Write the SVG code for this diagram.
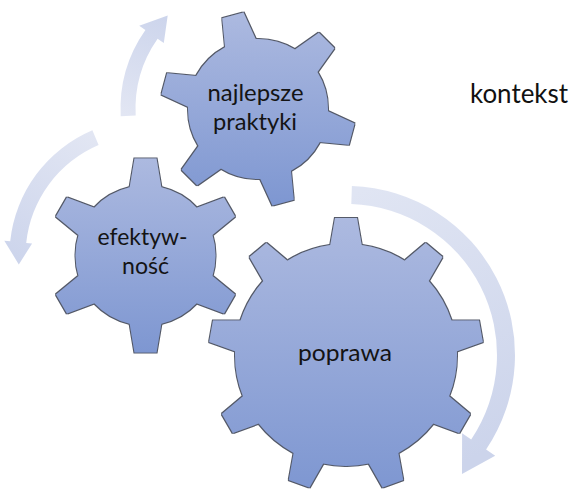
<svg xmlns="http://www.w3.org/2000/svg" width="575" height="490" viewBox="0 0 575 490">
  <style>
    .label { font-family: Lato, "Open Sans", "Liberation Sans", sans-serif; font-size: 24px; fill: #141414; text-anchor: middle; }
    .body { fill: url(#gearFill); }
  </style>
  <defs>
    <linearGradient id="gearFill" x1="0" y1="0" x2="0" y2="1">
      <stop offset="0" stop-color="#ADBAE0"/>
      <stop offset="1" stop-color="#7D96D1"/>
    </linearGradient>
    <linearGradient id="arrowA" gradientUnits="userSpaceOnUse" x1="350" y1="195" x2="470" y2="460">
      <stop offset="0" stop-color="#E0E5F3"/>
      <stop offset="1" stop-color="#CCD4EB"/>
    </linearGradient>
    <linearGradient id="arrowB" gradientUnits="userSpaceOnUse" x1="128" y1="116" x2="165" y2="18">
      <stop offset="0" stop-color="#E2E6F3"/>
      <stop offset="1" stop-color="#CDD5EC"/>
    </linearGradient>
    <linearGradient id="arrowC" gradientUnits="userSpaceOnUse" x1="95" y1="135" x2="20" y2="260">
      <stop offset="0" stop-color="#E2E6F3"/>
      <stop offset="1" stop-color="#CDD5EC"/>
    </linearGradient>
    <!-- gear teeth, drawn pointing up from the gear centre -->
    <polygon id="toothL" points="-17.4,-100 -11,-137 11,-137 17.4,-100"/>
    <polygon id="toothS" points="-17.2,-60 -11,-97 11,-97 17.2,-60"/>
    <filter id="rim" x="-5%" y="-5%" width="110%" height="110%">
      <feMorphology in="SourceAlpha" operator="dilate" radius="1.1" result="grow"/>
      <feFlood flood-color="#545a68"/>
      <feComposite in2="grow" operator="in" result="edge"/>
      <feMerge>
        <feMergeNode in="edge"/>
        <feMergeNode in="SourceGraphic"/>
      </feMerge>
    </filter>
    <clipPath id="clipGear1">
      <circle cx="346" cy="355" r="111"/>
      <use href="#toothL" transform="translate(346 355) rotate(0)"/>
      <use href="#toothL" transform="translate(346 355) rotate(40)"/>
      <use href="#toothL" transform="translate(346 355) rotate(80)"/>
      <use href="#toothL" transform="translate(346 355) rotate(120)"/>
      <use href="#toothL" transform="translate(346 355) rotate(160)"/>
      <use href="#toothL" transform="translate(346 355) rotate(200)"/>
      <use href="#toothL" transform="translate(346 355) rotate(240)"/>
      <use href="#toothL" transform="translate(346 355) rotate(280)"/>
      <use href="#toothL" transform="translate(346 355) rotate(320)"/>
    </clipPath>
    <clipPath id="clipGear2">
      <circle cx="258" cy="109" r="70"/>
      <use href="#toothS" transform="translate(258 109) rotate(45)"/>
      <use href="#toothS" transform="translate(258 109) rotate(105)"/>
      <use href="#toothS" transform="translate(258 109) rotate(165)"/>
      <use href="#toothS" transform="translate(258 109) rotate(225)"/>
      <use href="#toothS" transform="translate(258 109) rotate(285)"/>
      <use href="#toothS" transform="translate(258 109) rotate(345)"/>
    </clipPath>
    <clipPath id="clipGear3">
      <circle cx="145.5" cy="255.5" r="70"/>
      <use href="#toothS" transform="translate(145.5 255.5) rotate(0)"/>
      <use href="#toothS" transform="translate(145.5 255.5) rotate(60)"/>
      <use href="#toothS" transform="translate(145.5 255.5) rotate(120)"/>
      <use href="#toothS" transform="translate(145.5 255.5) rotate(180)"/>
      <use href="#toothS" transform="translate(145.5 255.5) rotate(240)"/>
      <use href="#toothS" transform="translate(145.5 255.5) rotate(300)"/>
    </clipPath>
  </defs>

  <rect width="575" height="490" fill="#ffffff"/>

  <!-- curved arrows -->
  <g id="connectors">
    <path id="arrow-poprawa" fill="url(#arrowA)" d="M 351.9,186.1 A 169 169 0 0 1 486.1,449.5 L 495.2,455.7 L 462,474 L 462.1,433.3 L 471.2,439.4 A 151 151 0 0 0 351.3,204.1 Z"/>
    <path id="arrow-praktyki" fill="url(#arrowB)" d="M 120.7,116.2 A 137.5 137.5 0 0 1 145.4,30.1 L 139.2,25.8 L 167.7,15.5 L 163.8,43.0 L 157.6,38.7 A 122.5 122.5 0 0 0 135.7,115.4 Z"/>
    <path id="arrow-efektywnosc" fill="url(#arrowC)" d="M 92.4,130.3 A 136 136 0 0 0 10.2,241.3 L 4.3,240.7 L 18.8,264.4 L 32.1,243.6 L 26.2,243.0 A 120 120 0 0 1 98.6,145.0 Z"/>
  </g>

  <g id="gear-poprawa">
    <g filter="url(#rim)">
      <rect class="body" x="205" y="214" width="282" height="282" clip-path="url(#clipGear1)"/>
    </g>
    <text class="label" x="345" y="361" textLength="94" lengthAdjust="spacingAndGlyphs">poprawa</text>
  </g>

  <g id="gear-najlepsze-praktyki">
    <g filter="url(#rim)">
      <rect class="body" x="158" y="9" width="200" height="200" clip-path="url(#clipGear2)"/>
    </g>
    <text class="label" x="255.5" y="101" textLength="96" lengthAdjust="spacingAndGlyphs">najlepsze</text>
    <text class="label" x="255" y="130" textLength="84" lengthAdjust="spacingAndGlyphs">praktyki</text>
  </g>

  <g id="gear-efektywnosc">
    <g filter="url(#rim)">
      <rect class="body" x="45" y="155" width="201" height="201" clip-path="url(#clipGear3)"/>
    </g>
    <text class="label" x="142.5" y="245" textLength="90" lengthAdjust="spacingAndGlyphs">efektyw-</text>
    <text class="label" x="145.5" y="274" textLength="47" lengthAdjust="spacingAndGlyphs">ność</text>
  </g>

  <g id="label-kontekst">
    <text x="470" y="103" textLength="98" lengthAdjust="spacingAndGlyphs" style="font-family: Lato, 'Open Sans', 'Liberation Sans', sans-serif; font-size: 27px; fill: #111;">kontekst</text>
  </g>
</svg>
